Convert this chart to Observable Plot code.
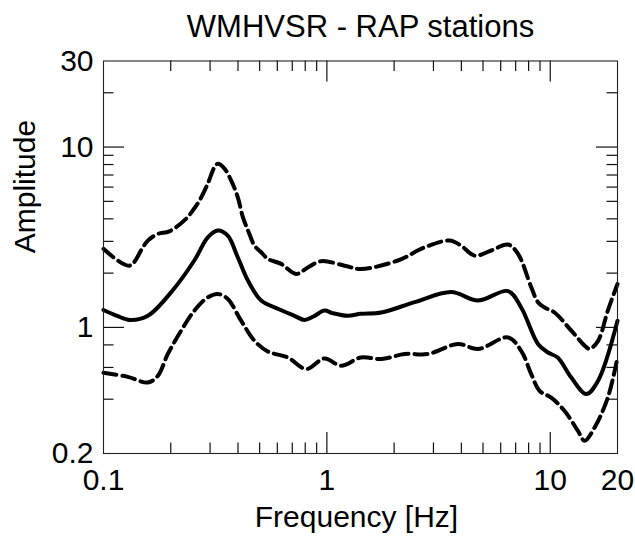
<!DOCTYPE html>
<html>
<head>
<meta charset="utf-8">
<script src="https://cdn.jsdelivr.net/npm/d3@7"></script>
<script src="https://cdn.jsdelivr.net/npm/@observablehq/plot@0.6"></script>
<style>
  body { margin: 0; background: #fff; }
  svg { display: block; }
</style>
</head>
<body>
<div id="chart"></div>
<script>
// Mean H/V spectral ratio and ±1σ bounds for the RAP stations
const freqMean = [0.1, 0.115, 0.131, 0.158, 0.201, 0.255, 0.293, 0.325, 0.36, 0.399, 0.443, 0.508, 0.603, 0.716, 0.794, 0.87, 0.976, 1.06, 1.24, 1.42, 1.75, 2.47, 3.6, 4.75, 6.47, 7.41, 8.81, 9.77, 10.8, 12.42, 14.5, 16.35, 20];
const ampMean = [1.25, 1.16, 1.10, 1.16, 1.57, 2.35, 3.16, 3.45, 3.23, 2.45, 1.82, 1.41, 1.27, 1.16, 1.10, 1.15, 1.24, 1.20, 1.16, 1.19, 1.21, 1.38, 1.57, 1.41, 1.59, 1.29, 0.81, 0.726, 0.681, 0.527, 0.427, 0.505, 1.09];

const freqUpper = [0.1, 0.1306, 0.15, 0.158, 0.175, 0.197, 0.234, 0.251, 0.269, 0.293, 0.314, 0.325, 0.348, 0.373, 0.399, 0.421, 0.45, 0.474, 0.508, 0.544, 0.624, 0.729, 0.822, 0.943, 1.2, 1.42, 2.08, 2.74, 3.54, 3.99, 4.58, 5.44, 6.47, 7.17, 8.22, 8.81, 9.43, 10.45, 12.42, 14.3, 15.0, 16.35, 18.1, 20];
const ampUpper = [2.73, 2.2, 2.78, 3.03, 3.3, 3.41, 4.0, 4.45, 5.05, 6.27, 7.74, 8.08, 7.6, 6.52, 5.28, 4.08, 3.3, 2.84, 2.61, 2.4, 2.25, 1.98, 2.15, 2.33, 2.2, 2.11, 2.35, 2.78, 3.03, 2.84, 2.5, 2.67, 2.88, 2.56, 1.67, 1.38, 1.29, 1.21, 0.96, 0.79, 0.76, 0.84, 1.24, 1.74];

const freqLower = [0.1, 0.1285, 0.158, 0.175, 0.194, 0.2226, 0.255, 0.293, 0.325, 0.36, 0.413, 0.474, 0.544, 0.669, 0.808, 0.976, 1.159, 1.42, 1.75, 2.23, 2.83, 3.86, 4.75, 6.47, 7.41, 8.22, 8.95, 10.1, 11.6, 13.3, 14.25, 15.8, 18.1, 20];
const ampLower = [0.56, 0.532, 0.495, 0.539, 0.712, 0.959, 1.238, 1.468, 1.533, 1.438, 1.09, 0.844, 0.736, 0.681, 0.588, 0.673, 0.613, 0.681, 0.668, 0.712, 0.712, 0.809, 0.759, 0.88, 0.742, 0.551, 0.445, 0.408, 0.344, 0.267, 0.235, 0.279, 0.408, 0.681];

// Axis ticks and labels
const xTickLabels = [0.1, 1, 10, 20];
const yTickLabels = [0.2, 1, 10, 30];
const xMajorTicks = [1, 10];
const xMinorTicks = [0.2, 0.3, 0.4, 0.5, 0.6, 0.7, 0.8, 0.9, 2, 3, 4, 5, 6, 7, 8, 9];
const yMajorTicks = [1, 10];
const yMinorTicks = [0.4, 0.6, 0.8, 2, 3, 4, 5, 6, 7, 8, 9, 20];

const rows = (f, a) => f.map((x, i) => ({f: x, a: a[i]}));

const W = 635, H = 538;
const margin = {top: 60.5, right: 18, bottom: 85, left: 103};
const innerW = W - margin.left - margin.right;
const innerH = H - margin.top - margin.bottom;
const majorLen = 21, minorLen = 10.5;
const ink = "#111";
const font = "'Liberation Sans', Arial, Helvetica, sans-serif";

// Inward ticks on all four sides of the box
function xTicks(values, len) {
  return [
    Plot.tickX(values, {x: d => d, insetTop: innerH - len, stroke: ink, strokeWidth: 1.2}),
    Plot.tickX(values, {x: d => d, insetBottom: innerH - len, stroke: ink, strokeWidth: 1.2})
  ];
}
function yTicks(values, len) {
  return [
    Plot.tickY(values, {y: d => d, insetRight: innerW - len, stroke: ink, strokeWidth: 1.2}),
    Plot.tickY(values, {y: d => d, insetLeft: innerW - len, stroke: ink, strokeWidth: 1.2})
  ];
}

const lineStyle = {x: "f", y: "a", stroke: "black", strokeWidth: 4, curve: "catmull-rom", strokeLinejoin: "round"};

const chart = Plot.plot({
  width: W,
  height: H,
  marginTop: margin.top,
  marginRight: margin.right,
  marginBottom: margin.bottom,
  marginLeft: margin.left,
  style: {fontFamily: font, fontSize: "30px", color: "black", background: "white"},
  x: {type: "log", domain: [0.1, 20], label: null},
  y: {type: "log", domain: [0.2, 30], label: null},
  marks: [
    ...xTicks(xMinorTicks, minorLen),
    ...xTicks(xMajorTicks, majorLen),
    ...yTicks(yMinorTicks, minorLen),
    ...yTicks(yMajorTicks, majorLen),
    Plot.line(rows(freqUpper, ampUpper), {...lineStyle, strokeDasharray: "13,6"}),
    Plot.line(rows(freqLower, ampLower), {...lineStyle, strokeDasharray: "13,6"}),
    Plot.line(rows(freqMean, ampMean), lineStyle),
    Plot.frame({stroke: "#222", strokeWidth: 1.1}),
    Plot.axisX({ticks: xTickLabels, tickSize: 0, tickPadding: 15, tickFormat: d => String(d), label: null, fontSize: 30}),
    Plot.axisY({ticks: yTickLabels, tickSize: 0, tickPadding: 10, tickFormat: d => String(d), label: null, fontSize: 30}),
    Plot.text(["WMHVSR - RAP stations"], {text: d => d, frameAnchor: "top", dy: -24, lineAnchor: "bottom", fontSize: 31}),
    Plot.text(["Frequency [Hz]"], {text: d => d, frameAnchor: "bottom", dy: 73.5, dx: -4, lineAnchor: "bottom", fontSize: 30}),
    Plot.text(["Amplitude"], {text: d => d, frameAnchor: "left", dx: -69, dy: -4, rotate: -90, lineAnchor: "bottom", fontSize: 30})
  ]
});

document.getElementById("chart").appendChild(chart);
</script>
</body>
</html>
